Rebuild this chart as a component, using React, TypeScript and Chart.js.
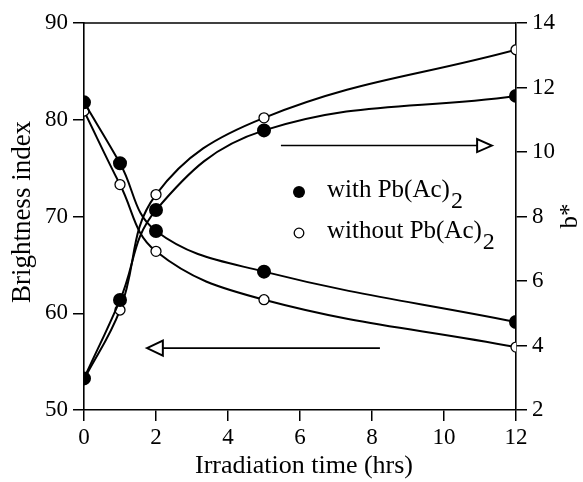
import React, { useEffect, useRef } from "react";
import { Chart, registerables } from "chart.js";

Chart.register(...registerables);

const timeHrs = [0, 1, 2, 5, 12];
const brightnessWith = [81.8, 75.5, 68.5, 64.3, 59.1];
const brightnessWithout = [80.9, 73.3, 66.4, 61.4, 56.5];
const bStarWith = [2.98, 5.41, 8.2, 10.67, 11.74];
const bStarWithout = [2.95, 5.1, 8.68, 11.06, 13.17];

const xTicks = [0, 2, 4, 6, 8, 10, 12];
const leftTicks = [50, 60, 70, 80, 90];
const rightTicks = [2, 4, 6, 8, 10, 12, 14];

const FONT = "'Liberation Serif', 'Times New Roman', serif";

const toPts = (ys: number[]) => timeHrs.map((x, i) => ({ x, y: ys[i] }));

const annotationPlugin = {
  id: "annot",
  afterDraw(chart: any) {
    const { ctx, chartArea, scales } = chart;
    const x = scales.x;
    const y = scales.y;
    const y2 = scales.y2;
    ctx.save();
    // top border
    ctx.strokeStyle = "#000";
    ctx.lineWidth = 1.6;
    ctx.beginPath();
    ctx.moveTo(chartArea.left, chartArea.top);
    ctx.lineTo(chartArea.right, chartArea.top);
    ctx.stroke();

    // arrows
    const arrow = (x0: number, xBase: number, xTip: number, py: number, h: number) => {
      ctx.lineWidth = 1.6;
      ctx.beginPath();
      ctx.moveTo(x0, py);
      ctx.lineTo(xBase, py);
      ctx.stroke();
      ctx.lineWidth = 2;
      ctx.beginPath();
      ctx.moveTo(xTip, py);
      ctx.lineTo(xBase, py - h);
      ctx.lineTo(xBase, py + h);
      ctx.closePath();
      ctx.fillStyle = "#fff";
      ctx.fill();
      ctx.stroke();
    };
    const ty = y2.getPixelForValue(10.2);
    arrow(x.getPixelForValue(5.47), x.getPixelForValue(10.92), x.getPixelForValue(11.33), ty, 6.5);
    const by = y.getPixelForValue(56.4);
    arrow(x.getPixelForValue(8.22), x.getPixelForValue(2.19), x.getPixelForValue(1.75), by, 7.5);

    // legend
    ctx.fillStyle = "#000";
    const lx = chartArea.left + 215;
    ctx.beginPath();
    ctx.arc(lx, 192, 6, 0, Math.PI * 2);
    ctx.fill();
    ctx.beginPath();
    ctx.arc(lx, 233, 4.8, 0, Math.PI * 2);
    ctx.lineWidth = 1.3;
    ctx.stroke();
    const sub = (text: string, tx: number, base: number) => {
      ctx.font = `25px ${FONT}`;
      ctx.textAlign = "left";
      ctx.textBaseline = "alphabetic";
      ctx.fillText(text, tx, base);
      const w = ctx.measureText(text).width;
      ctx.font = `24px ${FONT}`;
      ctx.fillText("2", tx + w + 1, base + 11);
    };
    sub("with Pb(Ac)", lx + 28, 197);
    sub("without Pb(Ac)", lx + 28, 238);

    // axis titles
    ctx.font = `26px ${FONT}`;
    ctx.textAlign = "center";
    ctx.textBaseline = "middle";
    ctx.fillText("Irradiation time (hrs)", 304, 466);
    ctx.save();
    ctx.font = `27px ${FONT}`;
    ctx.translate(23, 212);
    ctx.rotate(-Math.PI / 2);
    ctx.fillText("Brightness index", 0, 0);
    ctx.restore();
    ctx.save();
    ctx.font = `25px ${FONT}`;
    ctx.translate(570, 216);
    ctx.rotate(-Math.PI / 2);
    ctx.fillText("b*", 0, 0);
    ctx.restore();
    ctx.restore();
  },
};

export default function App() {
  const ref = useRef<HTMLCanvasElement>(null);
  useEffect(() => {
    if (!ref.current) return;
    const tickFont = { family: FONT, size: 23 };
    const gridCommon = {
      drawOnChartArea: false,
      drawTicks: true,
      tickLength: 11,
      color: "#000",
      lineWidth: 1.5,
    };
    const lineCommon = {
      borderColor: "#000",
      borderWidth: 2,
      tension: 0.4,
      pointBorderColor: "#000",
    };
    const filled = { pointRadius: 6, pointBackgroundColor: "#000" };
    const open = { pointRadius: 5, pointBorderWidth: 1.3, pointBackgroundColor: "#fff" };
    const chart = new Chart(ref.current, {
      type: "line",
      data: {
        datasets: [
          { label: "Brightness with", data: toPts(brightnessWith), yAxisID: "y", ...lineCommon, ...filled },
          { label: "Brightness without", data: toPts(brightnessWithout), yAxisID: "y", ...lineCommon, ...open },
          { label: "b* with", data: toPts(bStarWith), yAxisID: "y2", ...lineCommon, ...filled },
          { label: "b* without", data: toPts(bStarWithout), yAxisID: "y2", ...lineCommon, ...open },
        ],
      },
      options: {
        animation: false,
        responsive: false,
        maintainAspectRatio: false,
        layout: { padding: { top: 23 } },
        plugins: { legend: { display: false }, tooltip: { enabled: false } },
        scales: {
          x: {
            type: "linear",
            min: 0,
            max: 12,
            afterFit: (s: any) => { s.height = 72; },
            afterBuildTicks: (s: any) => { s.ticks = xTicks.map((v) => ({ value: v })); },
            ticks: { font: tickFont, color: "#000", padding: 3, maxRotation: 0 },
            grid: gridCommon,
            border: { color: "#000", width: 1.6 },
          },
          y: {
            type: "linear",
            position: "left",
            min: 50,
            max: 90,
            afterFit: (s: any) => { s.width = 84; },
            afterBuildTicks: (s: any) => { s.ticks = leftTicks.map((v) => ({ value: v })); },
            ticks: { font: tickFont, color: "#000", padding: 5 },
            grid: gridCommon,
            border: { color: "#000", width: 1.6 },
          },
          y2: {
            type: "linear",
            position: "right",
            min: 2,
            max: 14,
            afterFit: (s: any) => { s.width = 67; },
            afterBuildTicks: (s: any) => { s.ticks = rightTicks.map((v) => ({ value: v })); },
            ticks: { font: tickFont, color: "#000", padding: 5 },
            grid: gridCommon,
            border: { color: "#000", width: 1.6 },
          },
        },
      },
      plugins: [annotationPlugin],
    });
    return () => chart.destroy();
  }, []);
  return (
    <div style={{ position: "absolute", left: 0, top: 0, width: 583, height: 482, background: "#fff" }}>
      <canvas ref={ref} width={583} height={482} style={{ width: 583, height: 482 }} />
    </div>
  );
}
